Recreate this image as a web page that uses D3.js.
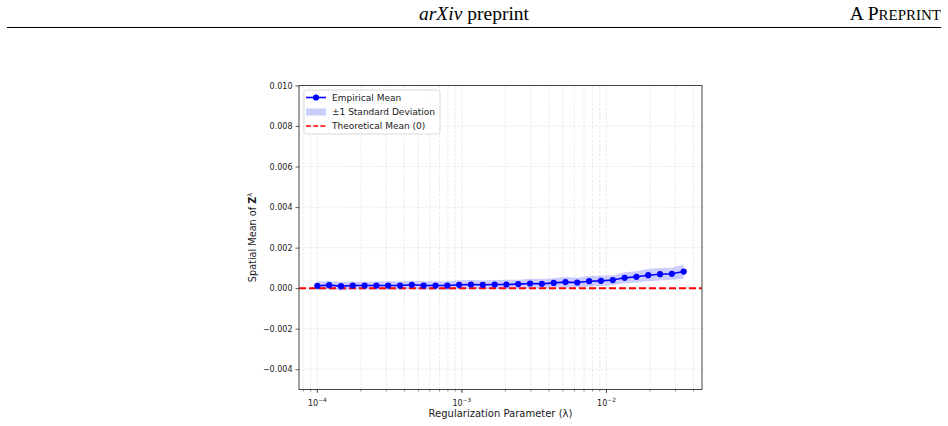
<!DOCTYPE html>
<html>
<head>
<meta charset="utf-8">
<script src="https://cdn.jsdelivr.net/npm/d3@7"></script>
<style>
  html, body { margin: 0; padding: 0; background: #fff; }
  svg { display: block; }
</style>
</head>
<body>
<svg id="chart" width="948" height="426"></svg>
<script>
// ---- data ----
const lambdas = [1.0000e-4, 1.2071e-4, 1.4571e-4, 1.7589e-4, 2.1232e-4, 2.5629e-4, 3.0937e-4, 3.7344e-4,
  4.5078e-4, 5.4414e-4, 6.5683e-4, 7.9286e-4, 9.5706e-4, 1.1553e-3, 1.3945e-3, 1.6833e-3,
  2.0319e-3, 2.4527e-3, 2.9607e-3, 3.5739e-3, 4.3140e-3, 5.2074e-3, 6.2859e-3, 7.5877e-3,
  9.1591e-3, 1.1056e-2, 1.3346e-2, 1.6110e-2, 1.9446e-2, 2.3473e-2, 2.8334e-2, 3.4202e-2];
const meanValues = [0.000115, 0.000148, 0.000100, 0.000130, 0.000130, 0.000130, 0.000130, 0.000130,
  0.000165, 0.000130, 0.000130, 0.000130, 0.000165, 0.000180, 0.000165, 0.000180,
  0.000180, 0.000200, 0.000230, 0.000214, 0.000260, 0.000300, 0.000280, 0.000345,
  0.000360, 0.000400, 0.000510, 0.000560, 0.000640, 0.000690, 0.000710, 0.000820];
const stdValues = [0.00021, 0.00020, 0.00021, 0.00020, 0.00019, 0.00020, 0.00021, 0.00020,
  0.00020, 0.00021, 0.00020, 0.00021, 0.00022, 0.00022, 0.00021, 0.00022,
  0.00023, 0.00022, 0.00023, 0.00024, 0.00023, 0.00025, 0.00024, 0.00026,
  0.00025, 0.00024, 0.00027, 0.00028, 0.00030, 0.00031, 0.00030, 0.00035];
const theoreticalMean = 0;
const yTicks = [-0.004, -0.002, 0.000, 0.002, 0.004, 0.006, 0.008, 0.010];
const xMajorTicks = [1e-4, 1e-3, 1e-2];
const xTickExponents = ["\u22124", "\u22123", "\u22122"];
const legendLabels = ["Empirical Mean", "\u00B11 Standard Deviation", "Theoretical Mean (0)"];

// ---- layout ----
const svg = d3.select("#chart");
const L = 299, R = 702, T = 85.5, B = 389.5;
const logMin = Math.log10(lambdas[0]), logMax = Math.log10(lambdas[lambdas.length - 1]);
const pad = 0.05 * (logMax - logMin);
const x = d3.scaleLog().domain([Math.pow(10, logMin - pad), Math.pow(10, logMax + pad)]).range([L, R]);
const y = d3.scaleLinear().domain([-0.005, 0.010]).range([B, T]);

const sans = "DejaVu Sans, sans-serif";
const serif = "Liberation Serif, Times New Roman, serif";

// ---- page header ----
const hdr = svg.append("text").attr("x", 474).attr("y", 20).attr("text-anchor", "middle")
  .attr("font-family", serif).attr("font-size", 19.5).attr("fill", "#000");
hdr.append("tspan").attr("font-style", "italic").text("arXiv");
hdr.append("tspan").text(" preprint");
const hdr2 = svg.append("text").attr("x", 941).attr("y", 20).attr("text-anchor", "end")
  .attr("font-family", serif).attr("font-size", 19.5).attr("fill", "#000");
hdr2.append("tspan").text("A P");
hdr2.append("tspan").attr("font-size", 15).text("REPRINT");
svg.append("line").attr("x1", 7).attr("x2", 941).attr("y1", 27.5).attr("y2", 27.5)
  .attr("stroke", "#000").attr("stroke-width", 1.2);

// ---- grid ----
const g = svg.append("g");
const minorTicks = [];
[-5, -4, -3, -2, -1].forEach(e => { for (let m = 1; m <= 9; m++) { const v = m * Math.pow(10, e); if (v >= x.domain()[0] && v <= x.domain()[1]) minorTicks.push(v); } });
g.selectAll("line.vgrid").data(minorTicks).join("line")
  .attr("x1", d => x(d)).attr("x2", d => x(d)).attr("y1", T).attr("y2", B)
  .attr("stroke", "#b0b0b0").attr("stroke-opacity", 0.32).attr("stroke-width", 0.8)
  .attr("stroke-dasharray", "3,1.5");
g.selectAll("line.hgrid").data(yTicks).join("line")
  .attr("x1", L).attr("x2", R).attr("y1", d => y(d)).attr("y2", d => y(d))
  .attr("stroke", "#b0b0b0").attr("stroke-opacity", 0.32).attr("stroke-width", 0.8)
  .attr("stroke-dasharray", "3,1.5");

// ---- clip ----
svg.append("clipPath").attr("id", "clip").append("rect").attr("x", L).attr("y", T).attr("width", R - L).attr("height", B - T);
const plot = svg.append("g").attr("clip-path", "url(#clip)");

const idx = d3.range(lambdas.length);
// band
plot.append("path").datum(idx)
  .attr("d", d3.area().x(i => x(lambdas[i])).y0(i => y(meanValues[i] - stdValues[i])).y1(i => y(meanValues[i] + stdValues[i])))
  .attr("fill", "#0000ff").attr("fill-opacity", 0.2).attr("stroke", "none");
// theoretical
plot.append("line").attr("x1", L).attr("x2", R).attr("y1", y(theoreticalMean)).attr("y2", y(theoreticalMean))
  .attr("stroke", "#ff0000").attr("stroke-width", 2).attr("stroke-dasharray", "7,3");
// mean line
plot.append("path").datum(idx)
  .attr("d", d3.line().x(i => x(lambdas[i])).y(i => y(meanValues[i])))
  .attr("fill", "none").attr("stroke", "#0000ff").attr("stroke-width", 1.6);
plot.selectAll("circle").data(idx).join("circle")
  .attr("cx", i => x(lambdas[i])).attr("cy", i => y(meanValues[i])).attr("r", 3.1)
  .attr("fill", "#0000ff");

// ---- axes ----
const yAxis = d3.axisLeft(y).tickValues(yTicks).tickSize(3.5).tickPadding(3)
  .tickFormat(d => d3.format(".3f")(d).replace("-", "\u2212"));
const ya = svg.append("g").attr("transform", `translate(${L},0)`).call(yAxis);
ya.select(".domain").remove();
ya.selectAll("text").attr("font-family", sans).attr("font-size", 8).attr("fill", "#1a1a1a");
ya.selectAll("line").attr("stroke", "#333").attr("stroke-width", 0.8);

const xa = svg.append("g").attr("transform", `translate(0,${B})`);
xa.selectAll("line.minor").data(minorTicks).join("line")
  .attr("x1", d => x(d)).attr("x2", d => x(d)).attr("y1", 0).attr("y2", 2)
  .attr("stroke", "#333").attr("stroke-width", 0.6);
xa.selectAll("line.major").data(xMajorTicks).join("line")
  .attr("x1", d => x(d)).attr("x2", d => x(d)).attr("y1", 0).attr("y2", 3.5)
  .attr("stroke", "#333").attr("stroke-width", 0.8);
xMajorTicks.forEach((d, i) => {
  const t = xa.append("text").attr("x", x(d)).attr("y", 16).attr("text-anchor", "middle")
    .attr("font-family", sans).attr("font-size", 8).attr("fill", "#1a1a1a");
  t.append("tspan").text("10");
  t.append("tspan").attr("dy", -4).attr("font-size", 5.8).text(xTickExponents[i]);
});

// spines
svg.append("rect").attr("x", L).attr("y", T).attr("width", R - L).attr("height", B - T)
  .attr("fill", "none").attr("stroke", "#444").attr("stroke-width", 1);

// axis labels
svg.append("text").attr("x", (L + R) / 2).attr("y", 417).attr("text-anchor", "middle")
  .attr("font-family", sans).attr("font-size", 10).attr("fill", "#1a1a1a")
  .text("Regularization Parameter (\u03BB)");
const yl = svg.append("text").attr("transform", `translate(256,${(T + B) / 2}) rotate(-90)`)
  .attr("text-anchor", "middle").attr("font-family", sans).attr("font-size", 9.7).attr("fill", "#1a1a1a");
yl.append("tspan").text("Spatial Mean of ");
yl.append("tspan").attr("font-weight", "bold").text("Z");
yl.append("tspan").attr("dy", -4).attr("font-size", 6.6).text("\u03BB");

// ---- legend ----
const lg = svg.append("g");
lg.append("rect").attr("x", 304).attr("y", 90).attr("width", 136).attr("height", 44).attr("rx", 2.5)
  .attr("fill", "#fff").attr("fill-opacity", 0.85).attr("stroke", "#d0d0d0").attr("stroke-width", 0.8);
const rows = [97.5, 112, 126];
// entry 1
lg.append("line").attr("x1", 306).attr("x2", 326).attr("y1", rows[0]).attr("y2", rows[0])
  .attr("stroke", "#0000ff").attr("stroke-width", 1.6);
lg.append("circle").attr("cx", 316).attr("cy", rows[0]).attr("r", 3.1).attr("fill", "#0000ff");
// entry 2
lg.append("rect").attr("x", 306).attr("y", rows[1] - 3.5).attr("width", 20).attr("height", 7)
  .attr("fill", "#0000ff").attr("fill-opacity", 0.2);
// entry 3
lg.append("line").attr("x1", 306).attr("x2", 326).attr("y1", rows[2]).attr("y2", rows[2])
  .attr("stroke", "#ff0000").attr("stroke-width", 1.6).attr("stroke-dasharray", "5,2.2");
legendLabels.forEach((t, i) => {
  lg.append("text").attr("x", 332).attr("y", rows[i] + 3.3).attr("font-family", sans)
    .attr("font-size", 9).attr("fill", "#1a1a1a").text(t);
});
</script>
</body>
</html>
